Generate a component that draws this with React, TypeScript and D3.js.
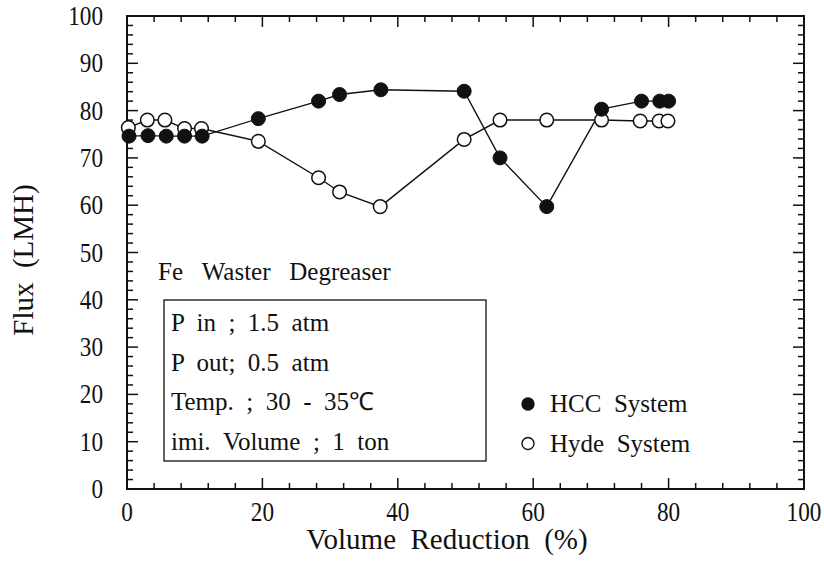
import * as d3 from "d3";
import React from "react";

// Volume reduction (%) and flux (LMH)
const hccX = [0.3, 3.1, 5.8, 8.5, 11.1, 19.4, 28.3, 31.4, 37.5, 49.8, 55.1, 62.0, 70.1, 76.0, 78.7, 80.0];
const hccY = [74.6, 74.7, 74.6, 74.6, 74.6, 78.3, 82.0, 83.4, 84.4, 84.1, 70.0, 59.7, 80.3, 82.0, 82.0, 82.0];
const hydeX = [0.2, 3.0, 5.6, 8.5, 11.0, 19.4, 28.3, 31.4, 37.4, 49.8, 55.1, 62.0, 70.1, 75.8, 78.6, 79.9];
const hydeY = [76.4, 78.0, 78.0, 76.2, 76.2, 73.5, 65.8, 62.8, 59.7, 73.9, 78.0, 78.0, 78.0, 77.8, 77.8, 77.8];

const xTicks = [0, 20, 40, 60, 80, 100];
const yTicks = [0, 10, 20, 30, 40, 50, 60, 70, 80, 90, 100];

const infoLines = ["P in ; 1.5 atm", "P out; 0.5 atm", "Temp. ; 30 - 35\u2103", "imi. Volume ; 1 ton"];
const legendNames = ["HCC System", "Hyde System"];

const FONT = "Liberation Serif";
const INK = "#111";

// wider word gaps with no-break spaces (letter/word-spacing makes the renderer drop the serif font)
const widen = (s: string, n: number) => s.split(" ").join(" " + "\u00A0".repeat(n));

export default function App() {
    const width = 824;
    const height = 570;
    const left = 127, right = 804, top = 16, bottom = 489;

    const x = d3.scaleLinear().domain([0, 100]).range([left, right]);
    const y = d3.scaleLinear().domain([0, 100]).range([bottom, top]);

    const minorX = d3.range(0, 101, 4).filter(v => v % 20 !== 0);
    const minorY = d3.range(0, 101, 2).filter(v => v % 10 !== 0);

    const line = d3.line<[number, number]>();
    const hccPts = hccX.map((v, i) => [x(v), y(hccY[i])] as [number, number]);
    const hydePts = hydeX.map((v, i) => [x(v), y(hydeY[i])] as [number, number]);

    const f = { fontFamily: FONT };

    return (
        <div style={{ position: "fixed", left: 0, top: 0, background: "#fff" }}>
            <svg width={width} height={height}>
                <rect x={0} y={0} width={width} height={height} fill="#fff" />

                {/* ticks, inward on all four sides */}
                <g stroke={INK} strokeWidth={1.5}>
                    {xTicks.map(v => (
                        <g key={"xt" + v}>
                            <line x1={x(v)} x2={x(v)} y1={bottom} y2={bottom - 11} />
                            <line x1={x(v)} x2={x(v)} y1={top} y2={top + 11} />
                        </g>
                    ))}
                    {minorX.map(v => (
                        <g key={"xm" + v}>
                            <line x1={x(v)} x2={x(v)} y1={bottom} y2={bottom - 6} />
                            <line x1={x(v)} x2={x(v)} y1={top} y2={top + 6} />
                        </g>
                    ))}
                    {yTicks.map(v => (
                        <g key={"yt" + v}>
                            <line x1={left} x2={left + 11} y1={y(v)} y2={y(v)} />
                            <line x1={right} x2={right - 11} y1={y(v)} y2={y(v)} />
                        </g>
                    ))}
                    {minorY.map(v => (
                        <g key={"ym" + v}>
                            <line x1={left} x2={left + 6} y1={y(v)} y2={y(v)} />
                            <line x1={right} x2={right - 6} y1={y(v)} y2={y(v)} />
                        </g>
                    ))}
                </g>

                {/* frame */}
                <rect x={left} y={top} width={right - left} height={bottom - top}
                    fill="none" stroke={INK} strokeWidth={2} />

                {/* tick labels */}
                {xTicks.map(v => (
                    <text key={"xl" + v} transform={`translate(${x(v)},521) scale(0.86,1)`}
                        textAnchor="middle" fill={INK} fontSize={27} style={f}>{v}</text>
                ))}
                {yTicks.map(v => (
                    <text key={"yl" + v} transform={`translate(103,${y(v) + 9}) scale(0.86,1)`}
                        textAnchor="end" fill={INK} fontSize={27} style={f}>{v}</text>
                ))}

                {/* axis titles */}
                <text x={447} y={549} textAnchor="middle" fill={INK} fontSize={29} style={f}>
                    {widen("Volume Reduction (%)", 1)}
                </text>
                <text transform={`translate(33,260) rotate(-90)`} textAnchor="middle" fill={INK}
                    fontSize={29} style={f}>
                    {widen("Flux (LMH)", 1)}
                </text>

                {/* series */}
                <path d={line(hydePts) || ""} fill="none" stroke={INK} strokeWidth={1.4} />
                <path d={line(hccPts) || ""} fill="none" stroke={INK} strokeWidth={1.4} />
                {hydePts.map((p, i) => (
                    <circle key={"hy" + i} cx={p[0]} cy={p[1]} r={6.8}
                        fill="#fff" stroke={INK} strokeWidth={1.5} />
                ))}
                {hccPts.map((p, i) => (
                    <circle key={"hc" + i} cx={p[0]} cy={p[1]} r={7}
                        fill={INK} stroke={INK} strokeWidth={1} />
                ))}

                {/* annotation */}
                <text x={158} y={280} fill={INK} fontSize={25} style={f}>
                    {widen("Fe Waster Degreaser", 2)}
                </text>
                <rect x={164} y={300} width={322} height={161} fill="#fff" stroke={INK} strokeWidth={1.3} />
                {infoLines.map((s, i) => (
                    <text key={"il" + i} x={171} y={331 + i * 39.7} fill={INK} fontSize={25} style={f}>
                        {widen(s, 1)}
                    </text>
                ))}

                {/* legend */}
                {legendNames.map((name, i) => (
                    <g key={"lg" + i}>
                        <circle cx={528} cy={404 + i * 39.5} r={6}
                            fill={i === 0 ? INK : "#fff"} stroke={INK} strokeWidth={1.4} />
                        <text x={550} y={412 + i * 40} fill={INK} fontSize={25} style={f}>
                            {widen(name, 1)}
                        </text>
                    </g>
                ))}
            </svg>
        </div>
    );
}
